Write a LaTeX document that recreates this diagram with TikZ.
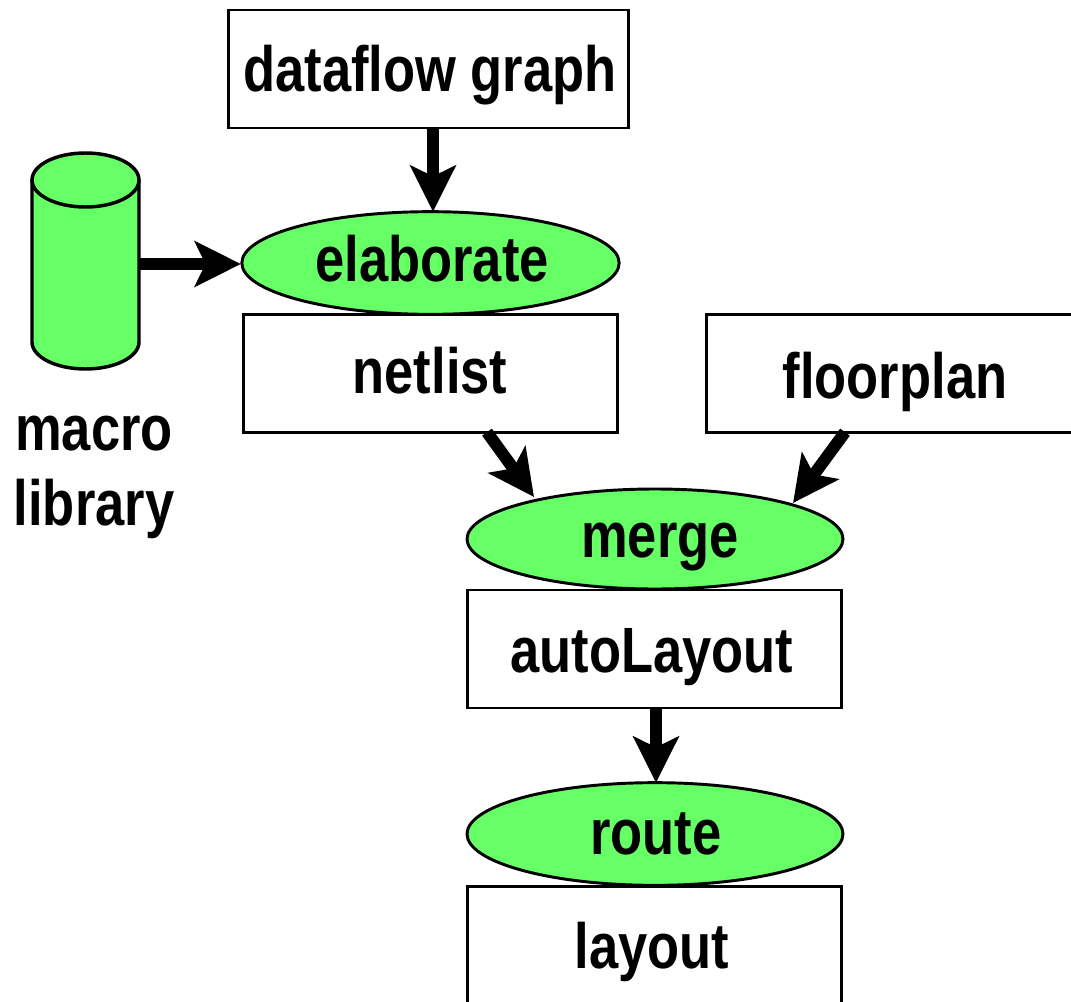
\documentclass[tikz,border=0pt]{standalone}
\usepackage{fontspec}
\setmainfont[FakeStretch=0.82]{Liberation Sans Bold}
\usetikzlibrary{arrows.meta,shapes.geometric,calc}
\definecolor{lime}{RGB}{102,255,102}
\tikzset{
  x=0.75pt,y=-0.75pt,
  lbl/.style={font=\fontsize{48}{48}\selectfont,text=black,anchor=base,inner sep=0pt},
  boxn/.style={draw=black,line width=2.2pt,fill=white,inner sep=0pt,outer sep=0pt},
  ell/.style={ellipse,draw=black,line width=2.2pt,fill=lime,inner sep=0pt,outer sep=0pt},
  cylline/.style={draw=black,line width=2.6pt,fill=lime,line join=round},
  flow/.style={line width=9pt,-{Stealth[length=34.5pt,width=34pt,inset=8pt]}}
}
\begin{document}
\begin{tikzpicture}
\useasboundingbox (0,0) rectangle (1071,1002);
% shapes
\node[boxn,minimum width=300pt,minimum height=88.5pt] (df) at (428.5,69) {};
\node[ell,minimum width=283pt,minimum height=77pt] (el) at (430.5,263) {};
\node[boxn,minimum width=281pt,minimum height=88pt] (nl) at (430.5,373.5) {};
\node[boxn,minimum width=280pt,minimum height=88pt] (fp) at (893,373.5) {};
\node[ell,minimum width=282pt,minimum height=75pt] (mg) at (655,539) {};
\node[boxn,minimum width=281pt,minimum height=88.5pt] (al) at (654.5,649) {};
\node[ell,minimum width=282pt,minimum height=77pt] (rt) at (655,834) {};
\node[boxn,minimum width=281pt,minimum height=88pt] (ly) at (654.5,945) {};
% cylinder
\node[minimum width=81pt,minimum height=162pt,inner sep=0pt,outer sep=0pt] (ml) at (85.5,261) {};
\path[cylline] (32,180) -- (32,342) .. controls (32,357) and (56,369) .. (85.5,369) .. controls (115,369) and (139,357) .. (139,342) -- (139,180) -- cycle;
\path[cylline] (32,180) .. controls (32,165) and (56,153) .. (85.5,153) .. controls (115,153) and (139,165) .. (139,180) .. controls (139,195) and (115,207) .. (85.5,207) .. controls (56,207) and (32,195) .. (32,180) -- cycle;
% labels
\node[lbl] (dft) at (430,92) {dataflow graph};
\node[lbl] (elt) at (432,281) {elaborate};
\node[lbl] (nlt) at (430,393) {netlist};
\node[lbl] (fpt) at (895,398) {floorplan};
\node[lbl] (mgt) at (660,557) {merge};
\node[lbl] (alt) at (652,672) {autoLayout};
\node[lbl] (rtt) at (656,854) {route};
\node[lbl] (lyt) at (652,968) {layout};
\node[lbl] (mlt1) at (94,450) {macro};
\node[lbl] (mlt2) at (94,525) {library};
% connectors
\draw[flow] ($(df.south)+(4.5,0)$) -- ($(el.north)+(2.5,0)$);
\draw[flow] ($(ml.east)+(0,3)$) -- ($(el.west)+(-1,1)$);
\draw[flow] ($(nl.south)+(56.5,0)$) -- ($(mg)+(-121,-42)$);
\draw[flow] ($(fp.south)+(-48,0)$) -- ($(mg)+(138,-36)$);
\draw[flow] ($(al.south)+(1.5,0)$) -- ($(rt.north)+(1,0)$);
\end{tikzpicture}
\end{document}
